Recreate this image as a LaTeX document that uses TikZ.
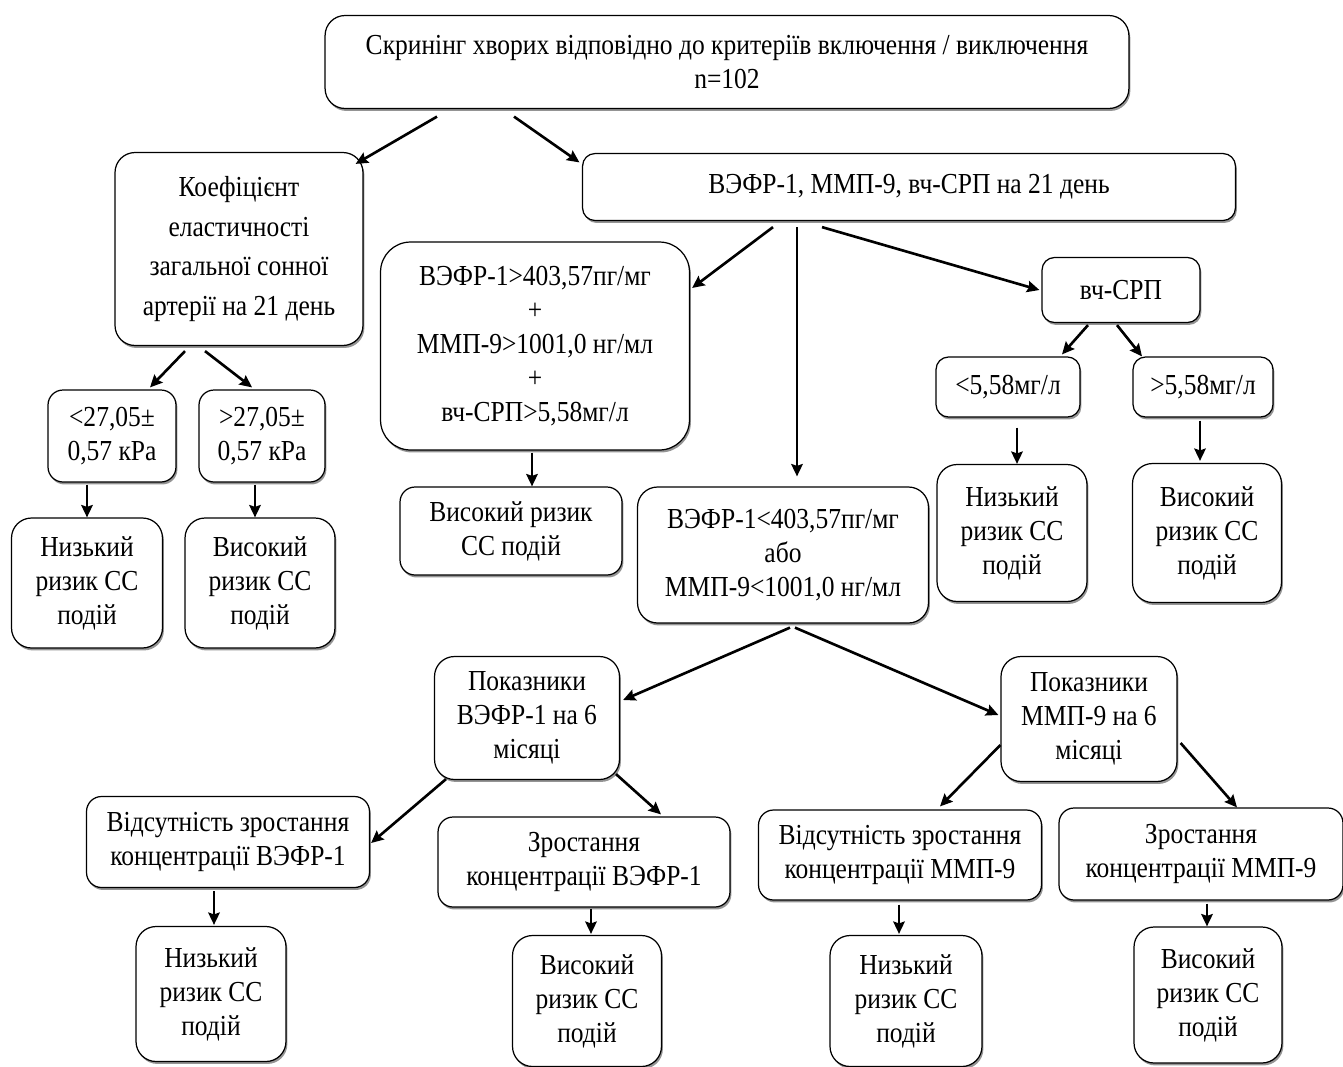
\documentclass[tikz,border=0pt]{standalone}
\usepackage{fontspec}
\setmainfont{Liberation Serif}[FakeStretch=0.88]
\usetikzlibrary{arrows.meta,calc,shadows}

\tikzset{
  box/.style={draw, line width=0.7pt, fill=white, rounded corners=0.4cm,
    align=center, inner sep=0pt,
    font=\fontsize{16.5}{19.3}\selectfont,
    drop shadow={shadow xshift=0.8pt, shadow yshift=-1.4pt, fill=black!60, opacity=0.7}},
  arr/.style={line width=1.5pt, -{Stealth[length=7pt,width=6.5pt,inset=1pt]}}
}

\begin{document}
\begin{tikzpicture}[x=0.02cm, y=-0.02cm]

    \useasboundingbox (0,0) rectangle (1343,1066);

    % top level
    \node[box, minimum width=16.08cm, minimum height=1.86cm] (screen) at (727,62)
        {Скринінг хворих відповідно до критеріїв включення / виключення\\n=102};
    \node[box, minimum width=4.96cm, minimum height=3.86cm, font=\fontsize{16.5}{22.7}\selectfont] (koef) at (239,249)
        {Коефіцієнт\\еластичності\\загальної сонної\\артерії на 21 день};
    \node[box, minimum width=13.06cm, minimum height=1.34cm, rounded corners=0.25cm] (markers) at (909,187)
        {ВЭФР-1, ММП-9, вч-СРП на 21 день};

    % elasticity branch
    \node[box, minimum width=2.56cm, minimum height=1.84cm, rounded corners=0.3cm] (ltk) at (112,436)
        {<27,05±\\0,57 кРа};
    \node[box, minimum width=2.52cm, minimum height=1.84cm, rounded corners=0.3cm] (gtk) at (262,436)
        {>27,05±\\0,57 кРа};
    \node[box, minimum width=3.02cm, minimum height=2.60cm] (lowk) at (87,583)
        {Низький\\ризик СС\\подій};
    \node[box, minimum width=3.00cm, minimum height=2.60cm] (highk) at (260,583)
        {Високий\\ризик СС\\подій};

    % combined markers
    \node[box, minimum width=6.18cm, minimum height=4.16cm, rounded corners=0.6cm] (allhigh) at (535,346)
        {ВЭФР-1>403,57пг/мг\\+\\ММП-9>1001,0 нг/мл\\+\\вч-СРП>5,58мг/л};
    \node[box, minimum width=4.44cm, minimum height=1.76cm, rounded corners=0.3cm] (highall) at (511,531)
        {Високий ризик\\СС подій};
    \node[box, minimum width=5.82cm, minimum height=2.72cm] (orlow) at (783,555)
        {ВЭФР-1<403,57пг/мг\\або\\ММП-9<1001,0 нг/мл};

    % CRP branch
    \node[box, minimum width=3.16cm, minimum height=1.30cm, rounded corners=0.25cm] (crp) at (1121,290)
        {вч-СРП};
    \node[box, minimum width=2.88cm, minimum height=1.20cm, rounded corners=0.25cm] (ltcrp) at (1008,387)
        {<5,58мг/л};
    \node[box, minimum width=2.80cm, minimum height=1.20cm, rounded corners=0.25cm] (gtcrp) at (1203,387)
        {>5,58мг/л};
    \node[box, minimum width=3.00cm, minimum height=2.74cm] (lowcrp) at (1012,533)
        {Низький\\ризик СС\\подій};
    \node[box, minimum width=2.98cm, minimum height=2.78cm] (highcrp) at (1207,533)
        {Високий\\ризик СС\\подій};

    % 6 months
    \node[box, minimum width=3.70cm, minimum height=2.46cm] (vegf6) at (527,718)
        {Показники\\ВЭФР-1 на 6\\місяці};
    \node[box, minimum width=3.52cm, minimum height=2.50cm] (mmp6) at (1089,719)
        {Показники\\ММП-9 на 6\\місяці};
    \node[box, minimum width=5.66cm, minimum height=1.82cm, rounded corners=0.3cm] (novegf) at (228,842)
        {Відсутність зростання\\концентрації ВЭФР-1};
    \node[box, minimum width=5.84cm, minimum height=1.80cm, rounded corners=0.3cm] (upvegf) at (584,862)
        {Зростання\\концентрації ВЭФР-1};
    \node[box, minimum width=5.66cm, minimum height=1.80cm, rounded corners=0.3cm] (nommp) at (900,855)
        {Відсутність зростання\\концентрації ММП-9};
    \node[box, minimum width=5.68cm, minimum height=1.84cm, rounded corners=0.3cm] (upmmp) at (1201,854)
        {Зростання\\концентрації ММП-9};
    \node[box, minimum width=3.00cm, minimum height=2.70cm] (lowvegf) at (211,994)
        {Низький\\ризик СС\\подій};
    \node[box, minimum width=2.98cm, minimum height=2.62cm] (highvegf) at (587,1001)
        {Високий\\ризик СС\\подій};
    \node[box, minimum width=3.04cm, minimum height=2.62cm] (lowmmp) at (906,1001)
        {Низький\\ризик СС\\подій};
    \node[box, minimum width=2.96cm, minimum height=2.72cm] (highmmp) at (1208,995)
        {Високий\\ризик СС\\подій};

    % arrows
    \draw[arr] ($(screen.south)+(-290,7.5)$) -- ($(koef.north east)+(-8,12)$);
    \draw[arr] ($(screen.south)+(-213,7.5)$) -- ($(markers.north west)+(-2.5,9.5)$);

    \draw[arr] ($(koef.south)+(-54,5)$) -- ($(ltk.north)+(38,-2)$);
    \draw[arr] ($(koef.south)+(-34,5)$) -- ($(gtk.north)+(-10,-2)$);
    \draw[arr] ($(ltk.south)+(-25,2)$) -- (lowk.north);
    \draw[arr] ($(gtk.south)+(-7,2)$) -- ($(highk.north)+(-5,0)$);

    \draw[arr] ($(markers.south)+(-136,6)$) -- ($(allhigh.east)+(2,-58)$);
    \draw[arr] ($(markers.south)+(-112,6)$) -- ($(orlow.north)+(14,-10)$);
    \draw[arr] ($(markers.south)+(-87,6)$) -- ($(crp.west)+(-2,0)$);
    \draw[arr] ($(allhigh.south)+(-3,2)$) -- ($(highall.north)+(21,0)$);

    \draw[arr] ($(crp.south)+(-33,2)$) -- ($(ltcrp.north)+(54,-2)$);
    \draw[arr] ($(crp.south)+(-4,2)$) -- ($(gtcrp.north)+(-61,0)$);
    \draw[arr] ($(ltcrp.south)+(9,10)$) -- ($(lowcrp.north)+(5,0)$);
    \draw[arr] ($(gtcrp.south)+(-3,3)$) -- ($(highcrp.north)+(-7,-2)$);

    \draw[arr] ($(orlow.south)+(7,4)$) -- ($(vegf6.east)+(3,-18)$);
    \draw[arr] ($(orlow.south)+(12,4)$) -- ($(mmp6.west)+(-2,-4)$);

    \draw[arr] ($(vegf6.south)+(-81,-1)$) -- ($(novegf.east)+(1,1)$);
    \draw[arr] ($(vegf6.south)+(89,-6)$) -- ($(upvegf.north)+(77,-2)$);
    \draw[arr] ($(novegf.south)+(-14,3)$) -- ($(lowvegf.north)+(3,-1)$);
    \draw[arr] ($(upvegf.south)+(7,1)$) -- ($(highvegf.north)+(4,-1)$);

    \draw[arr] ($(mmp6.west)+(0,26)$) -- ($(nommp.north)+(40,-3)$);
    \draw[arr] ($(mmp6.east)+(3,24)$) -- ($(upmmp.north)+(36,0)$);
    \draw[arr] ($(nommp.south)+(-1,4)$) -- ($(lowmmp.north)+(-7,-1)$);
    \draw[arr] ($(upmmp.south)+(6,3)$) -- ($(highmmp.north)+(-1,0)$);

\end{tikzpicture}
\end{document}
